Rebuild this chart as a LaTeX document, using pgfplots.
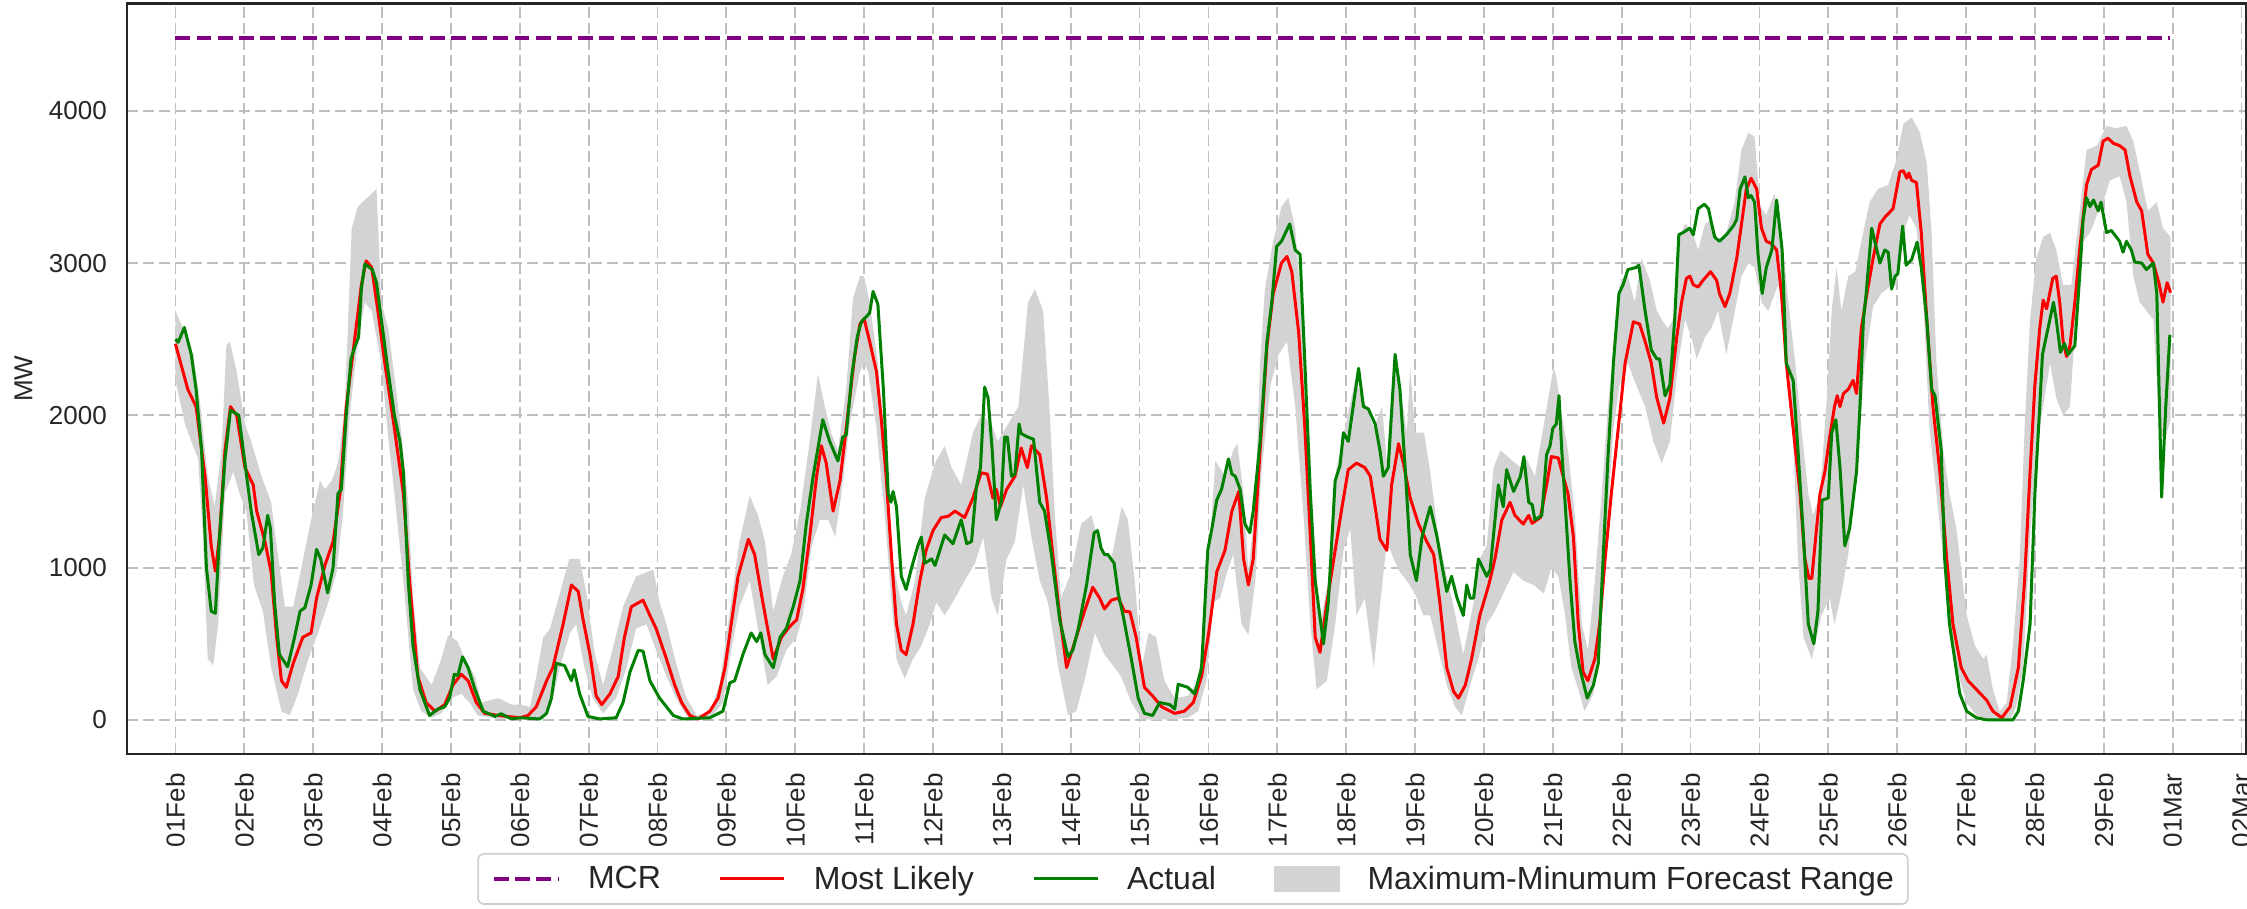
\documentclass[border=0pt]{standalone}
\usepackage{pgfplots}
\pgfplotsset{compat=1.18}
\usepackage{pgfplotstable}
\usepgfplotslibrary{fillbetween}
\usepackage{fontspec}
\setmainfont{Liberation Sans}
\definecolor{mcrc}{HTML}{800080}
\definecolor{mlc}{HTML}{FF0000}
\definecolor{actc}{HTML}{008000}
\definecolor{bandc}{HTML}{D3D3D3}
\definecolor{gridc}{HTML}{BFBFBF}
\newcommand{\tickfont}{\fontsize{13}{15.6}\selectfont}
\newcommand{\legfont}{\fontsize{16}{19.2}\selectfont}

\pgfplotstableread{
d v
0.00 2470
0.18 2171
0.30 2057
0.43 1600
0.52 1143
0.58 977
0.64 1200
0.72 1771
0.80 2057
0.89 2000
1.01 1657
1.13 1543
1.18 1371
1.30 1171
1.39 971
1.47 543
1.54 257
1.61 214
1.71 371
1.85 543
1.97 571
2.05 800
2.17 1014
2.29 1171
2.39 1486
2.48 2057
2.56 2343
2.63 2600
2.70 2857
2.77 3014
2.85 2971
2.94 2686
3.04 2343
3.18 1914
3.31 1486
3.40 914
3.52 286
3.64 114
3.77 57
3.91 100
4.03 229
4.15 300
4.25 257
4.37 114
4.49 43
4.69 29
5.00 14
5.12 29
5.24 86
5.39 257
5.48 343
5.63 629
5.75 886
5.85 843
5.92 657
6.02 429
6.11 157
6.19 100
6.31 171
6.43 286
6.52 543
6.62 743
6.79 786
6.89 686
6.98 600
7.13 400
7.25 229
7.35 114
7.47 29
7.59 6
7.76 57
7.88 143
7.98 343
8.07 629
8.17 943
8.24 1057
8.32 1186
8.41 1086
8.53 771
8.68 400
8.80 543
8.92 614
9.02 657
9.11 857
9.21 1200
9.31 1600
9.38 1800
9.45 1686
9.55 1371
9.65 1571
9.74 1914
9.86 2380
9.94 2600
10.00 2634
10.08 2486
10.18 2286
10.25 1971
10.32 1600
10.40 1057
10.47 629
10.54 457
10.61 429
10.71 629
10.81 914
10.90 1114
11.00 1243
11.12 1329
11.22 1337
11.32 1371
11.46 1329
11.58 1457
11.70 1623
11.79 1614
11.87 1457
11.92 1514
11.98 1400
12.07 1514
12.19 1600
12.28 1786
12.37 1657
12.43 1800
12.55 1743
12.65 1457
12.74 1086
12.84 686
12.94 343
13.06 514
13.20 714
13.32 871
13.42 800
13.49 729
13.59 786
13.69 800
13.78 714
13.86 709
13.95 543
14.07 214
14.19 157
14.32 86
14.51 43
14.65 57
14.78 114
14.90 286
15.00 560
15.12 971
15.24 1114
15.34 1371
15.44 1500
15.51 1057
15.58 886
15.65 1057
15.75 1771
15.85 2457
15.94 2800
16.06 3000
16.14 3043
16.21 2943
16.31 2543
16.40 1914
16.48 1200
16.55 543
16.62 443
16.72 771
16.82 1057
16.94 1400
17.03 1643
17.15 1686
17.27 1657
17.35 1600
17.42 1400
17.49 1186
17.59 1114
17.66 1543
17.76 1814
17.83 1686
17.93 1457
18.05 1286
18.17 1171
18.27 1086
18.36 771
18.46 343
18.56 186
18.63 143
18.73 229
18.82 400
18.94 686
19.07 886
19.16 1057
19.26 1314
19.38 1429
19.45 1343
19.57 1286
19.65 1343
19.70 1291
19.82 1329
19.91 1543
19.98 1729
20.08 1720
20.15 1600
20.22 1486
20.30 1200
20.37 629
20.44 314
20.51 257
20.61 400
20.68 629
20.76 1057
20.85 1486
20.95 1914
21.05 2343
21.17 2614
21.26 2600
21.34 2486
21.43 2343
21.51 2114
21.61 1949
21.70 2114
21.80 2514
21.87 2743
21.94 2900
21.99 2914
22.04 2857
22.11 2843
22.18 2886
22.29 2943
22.38 2886
22.42 2800
22.50 2714
22.57 2800
22.67 3029
22.74 3257
22.81 3486
22.88 3557
22.96 3486
23.03 3229
23.10 3143
23.17 3129
23.25 3086
23.32 2800
23.39 2343
23.49 1914
23.59 1486
23.66 1057
23.72 929
23.76 929
23.83 1257
23.88 1486
23.95 1629
24.02 1857
24.09 2057
24.13 2129
24.17 2057
24.22 2143
24.29 2171
24.36 2229
24.41 2143
24.48 2571
24.55 2771
24.65 3029
24.75 3257
24.82 3300
24.94 3357
25.04 3600
25.09 3606
25.14 3557
25.17 3591
25.21 3543
25.28 3529
25.35 3200
25.43 2629
25.52 2057
25.62 1629
25.72 1057
25.81 629
25.93 343
26.03 257
26.15 200
26.30 129
26.39 57
26.52 14
26.64 86
26.76 343
26.85 914
26.93 1629
27.00 2200
27.07 2571
27.12 2757
27.17 2700
27.26 2900
27.31 2914
27.36 2743
27.41 2486
27.46 2386
27.51 2457
27.58 2743
27.65 3086
27.75 3514
27.82 3614
27.92 3643
27.99 3800
28.06 3820
28.14 3786
28.23 3771
28.31 3743
28.38 3571
28.48 3400
28.55 3343
28.64 3057
28.72 3000
28.80 2871
28.86 2743
28.92 2871
28.97 2806
}\tabML

\pgfplotstableread{
d v
0.00 2500
0.04 2480
0.13 2577
0.23 2400
0.30 2171
0.38 1771
0.45 1000
0.52 714
0.58 700
0.64 1200
0.72 1714
0.80 2034
0.92 2000
1.01 1686
1.10 1371
1.21 1086
1.27 1129
1.34 1343
1.38 1257
1.44 771
1.51 429
1.63 349
1.73 543
1.81 714
1.88 737
1.97 886
2.05 1120
2.11 1057
2.21 834
2.29 1000
2.36 1486
2.41 1514
2.48 2000
2.55 2371
2.60 2443
2.66 2514
2.70 2829
2.75 2994
2.86 2957
2.92 2871
2.99 2629
3.09 2286
3.18 2000
3.26 1829
3.31 1629
3.38 914
3.45 486
3.55 200
3.69 29
3.81 71
3.91 86
3.98 143
4.05 300
4.10 291
4.17 414
4.25 343
4.35 200
4.47 57
4.64 23
4.73 40
4.88 6
5.00 14
5.29 6
5.39 43
5.46 143
5.53 371
5.65 357
5.75 257
5.79 329
5.87 171
5.99 23
6.16 6
6.40 14
6.50 114
6.60 314
6.72 457
6.79 451
6.89 257
7.03 143
7.23 29
7.37 6
7.76 14
7.95 57
8.05 243
8.12 257
8.24 429
8.36 571
8.44 514
8.50 571
8.56 429
8.68 343
8.78 543
8.87 600
8.97 743
9.07 914
9.16 1286
9.26 1600
9.40 1971
9.50 1829
9.62 1700
9.69 1857
9.74 1871
9.82 2257
9.90 2514
9.96 2614
10.08 2671
10.13 2814
10.20 2729
10.28 2171
10.35 1486
10.39 1429
10.42 1500
10.47 1400
10.54 943
10.61 857
10.69 1000
10.78 1143
10.83 1200
10.88 1029
10.98 1057
11.03 1014
11.17 1214
11.29 1157
11.41 1314
11.49 1157
11.56 1171
11.63 1529
11.69 1657
11.75 2186
11.80 2114
11.86 1771
11.92 1314
11.99 1429
12.04 1857
12.08 1857
12.14 1600
12.19 1614
12.25 1943
12.28 1880
12.38 1857
12.46 1843
12.55 1429
12.62 1371
12.72 1086
12.84 657
12.96 414
13.03 457
13.11 600
13.23 886
13.34 1229
13.39 1243
13.44 1129
13.49 1086
13.54 1086
13.63 1029
13.69 829
13.76 686
13.88 400
13.98 143
14.07 43
14.19 29
14.29 114
14.44 100
14.51 71
14.56 234
14.70 214
14.80 171
14.90 343
14.99 1114
15.05 1257
15.12 1443
15.19 1514
15.29 1714
15.34 1614
15.39 1600
15.46 1514
15.53 1286
15.60 1229
15.65 1371
15.75 1829
15.85 2486
15.92 2743
15.99 3109
16.06 3143
16.18 3257
16.26 3086
16.33 3057
16.40 2343
16.48 1486
16.55 914
16.67 500
16.74 771
16.84 1571
16.91 1671
16.96 1886
17.03 1829
17.11 2086
17.18 2309
17.25 2057
17.32 2043
17.42 1943
17.49 1771
17.54 1600
17.61 1657
17.71 2400
17.78 2171
17.86 1629
17.93 1086
18.02 914
18.10 1200
18.22 1400
18.32 1200
18.39 1014
18.46 843
18.53 943
18.61 800
18.70 686
18.75 886
18.80 800
18.85 800
18.92 1057
19.04 943
19.09 986
19.21 1543
19.28 1400
19.33 1643
19.43 1500
19.53 1600
19.58 1729
19.65 1429
19.70 1414
19.74 1314
19.84 1343
19.91 1743
19.96 1800
20.00 1914
20.05 1943
20.09 2129
20.13 1771
20.17 1486
20.25 914
20.32 514
20.39 343
20.50 143
20.59 229
20.66 371
20.73 1057
20.80 1714
20.88 2343
20.96 2800
21.02 2857
21.09 2957
21.21 2971
21.25 2986
21.34 2686
21.43 2429
21.51 2371
21.55 2371
21.63 2129
21.70 2200
21.77 2629
21.83 3186
21.89 3200
21.99 3229
22.04 3186
22.11 3357
22.20 3386
22.26 3357
22.30 3271
22.35 3171
22.42 3143
22.52 3186
22.62 3243
22.67 3286
22.72 3486
22.79 3566
22.84 3429
22.88 3443
22.93 3400
22.98 3057
23.04 2800
23.10 2971
23.18 3086
23.25 3414
23.33 3086
23.39 2343
23.49 2229
23.56 1771
23.64 1200
23.71 629
23.79 500
23.85 714
23.91 1443
24.00 1457
24.05 1886
24.11 1971
24.17 1657
24.24 1143
24.31 1257
24.41 1629
24.46 2057
24.51 2629
24.55 2800
24.63 3229
24.75 3000
24.82 3086
24.87 3071
24.92 2829
24.97 2914
25.01 2929
25.08 3243
25.13 2986
25.21 3023
25.29 3137
25.35 2971
25.43 2629
25.50 2171
25.55 2129
25.64 1771
25.69 1057
25.76 629
25.91 171
26.01 57
26.15 14
26.30 0
26.68 0
26.76 57
26.83 257
26.93 629
27.00 1486
27.07 2057
27.11 2400
27.19 2571
27.27 2743
27.31 2629
27.37 2414
27.43 2471
27.48 2400
27.58 2457
27.65 2914
27.70 3286
27.75 3429
27.80 3371
27.85 3414
27.92 3343
27.96 3400
28.04 3200
28.11 3214
28.23 3143
28.28 3071
28.33 3143
28.40 3086
28.45 3006
28.55 3000
28.62 2957
28.72 3000
28.77 2800
28.84 1463
28.90 2057
28.96 2529
}\tabAct

\pgfplotstableread{
d v
0.00 2686
0.14 2543
0.26 2400
0.35 2114
0.47 1600
0.57 1400
0.67 1771
0.74 2457
0.79 2486
0.89 2286
1.01 1943
1.10 1829
1.25 1600
1.39 1429
1.47 1143
1.59 743
1.71 743
1.83 1000
1.88 1114
1.97 1314
2.10 1571
2.17 1514
2.27 1571
2.36 1686
2.46 2057
2.56 3229
2.65 3371
2.75 3414
2.92 3486
2.99 2743
3.09 2571
3.18 2257
3.28 1886
3.38 1429
3.45 800
3.55 343
3.72 229
3.86 400
3.96 557
4.10 514
4.20 400
4.35 286
4.44 114
4.69 143
4.88 100
5.00 100
5.15 86
5.24 286
5.34 543
5.44 600
5.58 829
5.72 1057
5.87 1057
5.97 829
6.09 429
6.21 229
6.36 486
6.50 743
6.69 943
6.94 986
7.03 771
7.13 629
7.27 371
7.42 143
7.57 29
7.76 57
7.90 229
8.05 714
8.19 1171
8.34 1471
8.46 1343
8.56 1171
8.68 714
8.82 943
8.94 1086
9.07 1371
9.21 1829
9.33 2271
9.43 2057
9.52 1886
9.62 1771
9.74 2171
9.84 2771
9.94 2914
10.00 2914
10.08 2743
10.20 2343
10.30 1771
10.42 1029
10.54 771
10.61 686
10.74 914
10.88 1457
11.03 1686
11.17 1800
11.27 1657
11.41 1543
11.58 1886
11.70 2000
11.85 1943
11.94 1829
12.09 1943
12.24 2057
12.38 2743
12.48 2829
12.60 2686
12.69 2057
12.77 1343
12.86 800
13.01 971
13.15 1286
13.30 1343
13.44 1114
13.59 1057
13.74 1400
13.83 1314
13.93 914
14.03 343
14.13 571
14.24 543
14.36 257
14.51 143
14.70 157
14.85 257
14.95 686
15.10 1700
15.24 1600
15.36 1771
15.42 1814
15.51 1486
15.58 971
15.68 1429
15.75 2343
15.82 2829
15.94 3143
16.06 3371
16.16 3429
16.26 3229
16.36 2629
16.45 1771
16.52 1057
16.62 629
16.74 914
16.86 1657
16.98 1914
17.13 2229
17.25 2114
17.40 1914
17.52 2057
17.59 1700
17.71 2400
17.78 2200
17.88 1886
17.93 2314
18.00 1886
18.13 1886
18.22 1629
18.34 1200
18.46 943
18.56 743
18.70 429
18.85 771
18.94 1057
19.04 1143
19.14 1657
19.24 1771
19.38 1714
19.53 1657
19.62 1714
19.74 1600
19.86 1914
20.01 2314
20.05 2257
20.13 2000
20.22 1771
20.32 1343
20.42 629
20.51 457
20.61 914
20.71 1486
20.80 2057
20.90 2514
20.97 2857
21.07 2943
21.19 2743
21.29 3029
21.41 2886
21.51 2686
21.58 2629
21.67 2571
21.75 2629
21.82 3143
21.92 3257
22.01 3229
22.11 3086
22.21 3257
22.30 3286
22.40 3143
22.52 3200
22.64 3400
22.74 3743
22.84 3857
22.93 3829
23.01 3371
23.10 3314
23.22 3457
23.32 3200
23.42 2743
23.52 2343
23.61 1914
23.71 1486
23.78 1343
23.88 1486
23.97 2057
24.05 2686
24.12 2971
24.19 2686
24.29 2914
24.39 2943
24.48 3143
24.60 3400
24.72 3486
24.87 3514
24.99 3680
25.09 3914
25.21 3957
25.33 3857
25.43 3657
25.50 3200
25.57 2343
25.67 1771
25.76 1486
25.86 1257
26.01 686
26.13 486
26.25 400
26.30 429
26.39 200
26.49 57
26.59 114
26.68 486
26.78 1057
26.85 1914
26.93 2629
27.02 3029
27.12 3171
27.22 3200
27.31 3086
27.41 2857
27.53 2857
27.63 3257
27.75 3743
27.90 3771
28.04 3900
28.18 3886
28.33 3900
28.43 3800
28.55 3543
28.64 3343
28.77 3400
28.86 3229
28.97 3171
}\tabHi

\pgfplotstableread{
d v
0.00 2229
0.14 1943
0.23 1829
0.33 1714
0.40 1200
0.47 400
0.55 357
0.62 629
0.72 1486
0.84 1629
0.93 1486
1.03 1371
1.14 886
1.27 714
1.39 343
1.54 57
1.66 29
1.78 171
1.93 400
2.07 571
2.22 771
2.34 971
2.43 1343
2.53 2000
2.65 2486
2.75 2743
2.85 2686
2.99 2343
3.09 1857
3.18 1486
3.31 914
3.45 200
3.57 57
3.72 14
3.86 43
4.01 143
4.15 171
4.27 114
4.39 29
4.69 6
5.00 6
5.34 6
5.46 100
5.58 343
5.73 571
5.82 629
5.94 343
6.06 143
6.21 43
6.40 143
6.55 343
6.69 600
6.84 629
6.98 457
7.13 286
7.27 143
7.42 29
7.76 6
7.95 114
8.07 457
8.19 743
8.34 914
8.48 543
8.60 229
8.73 286
8.87 457
9.02 543
9.11 686
9.24 1143
9.36 1314
9.48 1314
9.58 1200
9.67 1486
9.79 1943
9.94 2286
10.00 2343
10.06 2286
10.18 1914
10.30 1343
10.40 771
10.47 400
10.59 271
10.71 400
10.83 486
10.93 600
11.05 771
11.17 686
11.32 800
11.46 914
11.61 1029
11.73 1200
11.85 800
11.94 686
12.07 1057
12.19 1171
12.31 1543
12.43 1200
12.55 914
12.67 771
12.82 343
12.96 29
13.08 57
13.20 257
13.35 571
13.49 429
13.64 343
13.73 286
13.88 114
14.03 6
14.22 0
14.46 6
14.70 14
14.85 57
14.97 257
15.07 771
15.17 800
15.27 971
15.36 1086
15.48 629
15.58 557
15.68 914
15.77 1629
15.90 2200
16.02 2400
16.14 2486
16.26 2057
16.38 1343
16.48 629
16.57 200
16.72 257
16.84 629
16.96 1114
17.06 1257
17.15 686
17.27 800
17.40 343
17.49 743
17.59 1171
17.69 1057
17.78 971
17.88 914
18.00 829
18.12 686
18.22 686
18.34 457
18.46 229
18.58 86
18.68 29
18.80 229
18.92 400
19.04 629
19.16 714
19.28 829
19.43 971
19.57 914
19.72 886
19.87 829
19.98 1000
20.08 943
20.17 714
20.27 343
20.37 200
20.46 57
20.59 171
20.68 571
20.78 1200
20.88 1914
20.97 2200
21.09 2343
21.21 2200
21.34 2057
21.46 1829
21.58 1686
21.70 1829
21.82 2343
21.92 2629
22.01 2514
22.09 2371
22.21 2514
22.30 2571
22.40 2686
22.52 2400
22.62 2629
22.74 2914
22.84 3000
22.93 2971
23.03 2743
23.13 2686
23.27 2857
23.37 2629
23.47 2057
23.56 1057
23.64 543
23.76 400
23.90 686
24.02 800
24.09 629
24.19 829
24.29 1086
24.41 1629
24.53 2343
24.65 2714
24.77 2800
24.92 2857
24.99 2850
25.09 3200
25.18 3314
25.28 3229
25.38 2743
25.47 1914
25.57 1486
25.67 1057
25.76 629
25.86 343
26.01 114
26.15 29
26.34 0
26.64 0
26.73 86
26.83 343
26.93 1200
27.02 1771
27.12 2057
27.22 2343
27.31 2114
27.41 2000
27.51 2057
27.60 2686
27.70 3143
27.80 3200
27.90 3314
27.99 3400
28.09 3543
28.23 3571
28.33 3400
28.43 2914
28.52 2743
28.62 2686
28.72 2629
28.81 1914
28.88 1829
28.97 1971
}\tabLo

\begin{document}
\begin{tikzpicture}
\begin{axis}[
  at={(63.6pt,77.5pt)}, anchor=south west,
  scale only axis, width=1059.4pt, height=375.2pt,
  xmin=-0.70, xmax=30.066, ymin=-224, ymax=4704,
  axis line style={black!85, line width=1.2pt},
  major tick length=0pt,
  grid=major,
  major grid style={gridc, line width=0.9pt, dash pattern=on 5.5pt off 2.5pt},
  xtick={0,1,...,30},
  xticklabels={01Feb,02Feb,03Feb,04Feb,05Feb,06Feb,07Feb,08Feb,09Feb,10Feb,11Feb,12Feb,13Feb,14Feb,15Feb,16Feb,17Feb,18Feb,19Feb,20Feb,21Feb,22Feb,23Feb,24Feb,25Feb,26Feb,27Feb,28Feb,29Feb,01Mar,02Mar},
  ytick={0,1000,2000,3000,4000},
  yticklabels={0,1000,2000,3000,4000},
  xticklabel style={rotate=90, anchor=east, font=\tickfont, inner sep=0pt, text=black!85},
  yticklabel style={anchor=east, font=\tickfont, inner sep=0pt, text=black!85},
  xticklabel shift=9.5pt,
  yticklabel shift=10pt,
  ylabel={MW},
  ylabel style={at={(axis description cs:-0.0490,0.5)}, anchor=center, font=\tickfont, text=black!85},
  legend columns=4,
  legend cell align=left,
  legend style={
    at={(0.503,-0.132)}, anchor=north,
    draw=black!20, line width=0.8pt, rounded corners=3pt, fill=white,
    font=\legfont, text=black!85,
    inner xsep=7pt, inner ysep=6pt,
    nodes={inner sep=0pt},
    /tikz/every odd column/.append style={column sep=14pt},
    /tikz/every even column/.append style={column sep=29pt},
  },
  legend image code/.code={\draw[#1] (0pt,0pt) -- (32pt,0pt);},
]
\addlegendimage{mcrc, line width=2pt, dash pattern=on 7.4pt off 3.2pt}
\addlegendentry{MCR}
\addlegendimage{mlc, line width=1.5pt}
\addlegendentry{Most Likely}
\addlegendimage{actc, line width=1.5pt}
\addlegendentry{Actual}
\addlegendimage{legend image code/.code={\fill[bandc, rounded corners=0pt] (0pt,-6pt) rectangle (32pt,6pt);}}
\addlegendentry{Maximum-Minumum Forecast Range}

\addplot[name path=U, draw=none, forget plot] table[x=d, y=v] {\tabHi};
\addplot[name path=L, draw=none, forget plot] table[x=d, y=v] {\tabLo};
\addplot[bandc, draw=none, forget plot] fill between[of=U and L];
\addplot[mcrc, line width=2pt, dash pattern=on 7.4pt off 3.2pt, forget plot] coordinates {(0,4480) (28.96,4480)};
\addplot[mlc, line width=1.5pt, line join=round, forget plot] table[x=d, y=v] {\tabML};
\addplot[actc, line width=1.5pt, line join=round, forget plot] table[x=d, y=v] {\tabAct};
\end{axis}
\pgfresetboundingbox
\path[use as bounding box] (0,0) rectangle (1123.5pt,454.5pt);
\end{tikzpicture}
\end{document}
